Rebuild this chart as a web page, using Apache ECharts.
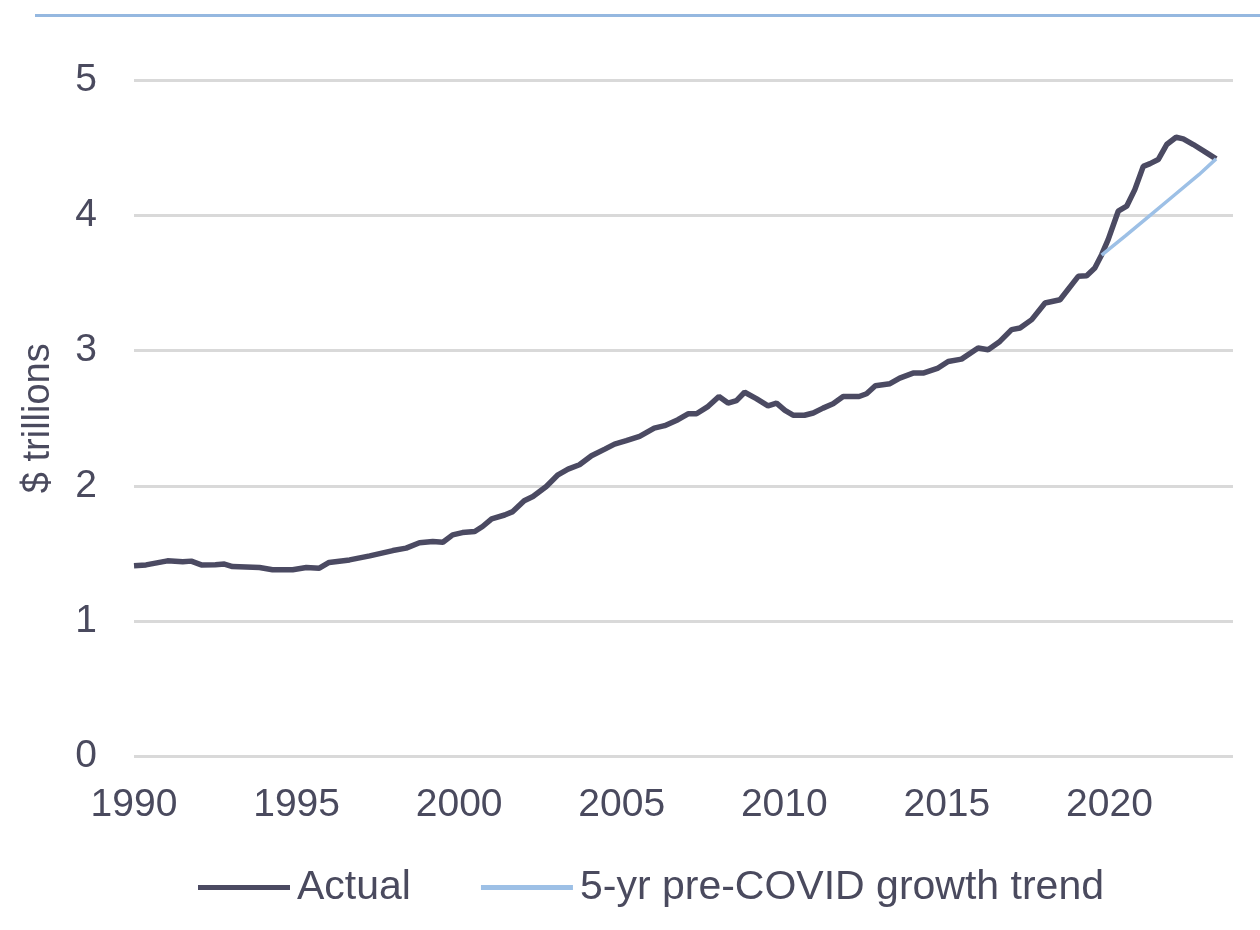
<!DOCTYPE html>
<html>
<head>
<meta charset="utf-8">
<script src="https://cdn.jsdelivr.net/npm/echarts@6/dist/echarts.min.js"></script>
<style>
html,body{margin:0;padding:0;background:#fff;}
#chart{width:1260px;height:930px;}
</style>
</head>
<body>
<div id="chart"></div>
<script>
// Actual series: [decimal year, $ trillions]
var actualYears = [1990.0,1990.37,1991.03,1991.5,1991.76,1992.07,1992.5,1992.78,1993.03,1993.86,1994.26,1994.88,1995.3,1995.7,1996.0,1996.63,1997.25,1997.96,1998.37,1998.78,1999.19,1999.5,1999.8,2000.1,2000.48,2000.72,2001.0,2001.4,2001.65,2002.0,2002.27,2002.68,2003.04,2003.35,2003.7,2004.07,2004.48,2004.78,2005.14,2005.55,2006.0,2006.32,2006.73,2007.04,2007.3,2007.66,2007.99,2008.27,2008.53,2008.78,2009.14,2009.5,2009.76,2010.02,2010.27,2010.62,2010.89,2011.19,2011.5,2011.81,2012.3,2012.53,2012.8,2013.25,2013.55,2013.96,2014.27,2014.73,2015.04,2015.45,2015.96,2016.27,2016.63,2016.99,2017.25,2017.61,2018.02,2018.48,2019.04,2019.3,2019.55,2019.76,2019.96,2020.27,2020.53,2020.78,2021.04,2021.25,2021.5,2021.76,2022.05,2022.27,2022.58,2022.99,2023.28];
var actualValues = [1.41,1.416,1.446,1.44,1.444,1.416,1.418,1.422,1.404,1.397,1.38,1.38,1.397,1.392,1.434,1.453,1.483,1.522,1.54,1.58,1.589,1.584,1.638,1.655,1.663,1.70,1.757,1.785,1.81,1.89,1.922,1.996,2.082,2.124,2.156,2.223,2.272,2.309,2.334,2.366,2.427,2.445,2.489,2.533,2.533,2.588,2.661,2.612,2.63,2.692,2.645,2.592,2.612,2.558,2.523,2.522,2.539,2.575,2.607,2.66,2.661,2.681,2.74,2.755,2.797,2.834,2.834,2.871,2.92,2.937,3.019,3.006,3.068,3.155,3.167,3.229,3.352,3.376,3.549,3.554,3.611,3.709,3.82,4.03,4.067,4.19,4.362,4.382,4.412,4.523,4.577,4.565,4.523,4.461,4.417];
// 5-yr pre-COVID growth trend
var trendYears = [2019.76,2020.5,2021.25,2022.0,2022.75,2023.28];
var trendValues = [3.705,3.85,4.0,4.15,4.30,4.417];
var xTicks = [1990,1995,2000,2005,2010,2015,2020];
var yTicks = [0,1,2,3,4,5];

function pairs(xs, ys){ return xs.map(function(x,i){ return [x, ys[i]]; }); }

var textColor = '#4a4a5e';
var font = 'Liberation Sans, Arial, sans-serif';
var chart = echarts.init(document.getElementById('chart'), null, {renderer:'canvas'});
chart.setOption({
  animation:false,
  backgroundColor:'#ffffff',
  graphic:[{
    type:'line', shape:{x1:35,y1:15.5,x2:1260,y2:15.5},
    style:{stroke:'#95b8e0', lineWidth:3}
  }],
  grid:{left:134, right:27, top:80, bottom:173.5, containLabel:false},
  xAxis:{
    type:'value', min:1990, max:2023.8, interval:5,
    axisLine:{show:false}, axisTick:{show:false}, splitLine:{show:false},
    axisLabel:{color:textColor, fontSize:39, fontFamily:font, margin:29,
      showMaxLabel:false,
      formatter:function(v){ return xTicks.indexOf(v)>=0 ? String(v) : ''; }}
  },
  yAxis:{
    type:'value', min:0, max:5, interval:1,
    name:'$ trillions', nameLocation:'middle', nameGap:76, nameRotate:90,
    nameTextStyle:{color:textColor, fontSize:38, fontFamily:font},
    axisLine:{show:false}, axisTick:{show:false},
    splitLine:{lineStyle:{color:'#d9d9d9', width:3}},
    axisLabel:{color:textColor, fontSize:39, fontFamily:font, margin:37,
      formatter:function(v){ return yTicks.indexOf(v)>=0 ? String(v) : ''; }}
  },
  legend:{
    bottom:17, left:193, itemWidth:92, itemHeight:5, itemGap:70, icon:'rect',
    textStyle:{color:textColor, fontSize:41, fontFamily:font, padding:[0,0,0,2]},
    data:['Actual','5-yr pre-COVID growth trend']
  },
  series:[
    {name:'Actual', type:'line', data:pairs(actualYears, actualValues), showSymbol:false, symbol:'none',
      lineStyle:{color:'#4b4a62', width:5.5}, itemStyle:{color:'#4b4a62'}, z:2},
    {name:'5-yr pre-COVID growth trend', type:'line', data:pairs(trendYears, trendValues), showSymbol:false, symbol:'none',
      lineStyle:{color:'#9dc0e6', width:3.5}, itemStyle:{color:'#9dc0e6'}, z:3}
  ]
});
</script>
</body>
</html>
